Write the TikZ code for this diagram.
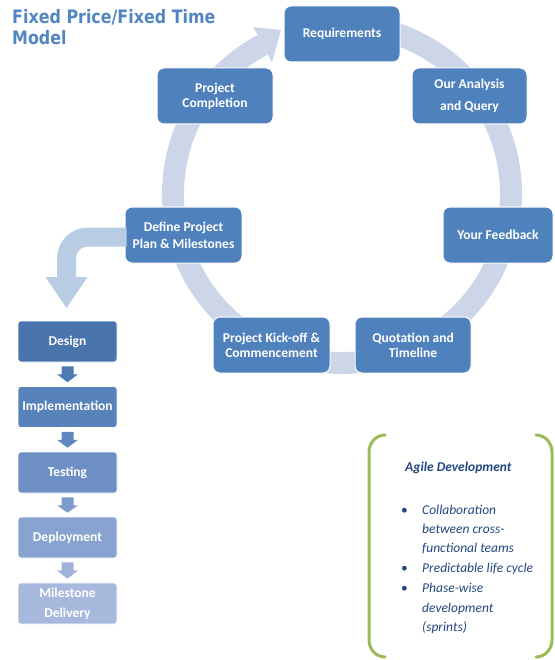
\documentclass[tikz,border=0pt]{standalone}
\usepackage{fontspec}
\setmainfont{Carlito}
\newfontfamily\titlefont{DejaVu Sans}[FakeStretch=0.86]
\usetikzlibrary{calc}
\definecolor{boxblue}{HTML}{4F81BD}
\definecolor{ringcol}{HTML}{CDD5E8}
\definecolor{curvecol}{HTML}{B8CCE4}
\definecolor{titlecol}{HTML}{5286C2}
\definecolor{dA}{HTML}{4A74AD}
\definecolor{dB}{HTML}{5882BA}
\definecolor{dC}{HTML}{6D8FC3}
\definecolor{dD}{HTML}{88A3CF}
\definecolor{dE}{HTML}{A6B9DD}
\definecolor{aA}{HTML}{4F79B2}
\definecolor{aB}{HTML}{6087BF}
\definecolor{aC}{HTML}{7D9BCC}
\definecolor{aD}{HTML}{9FB3DA}
\definecolor{agilegreen}{HTML}{9BBB59}
\definecolor{agiletext}{HTML}{234680}
\newcommand\dnarr[3]{\fill[#3] ($(#1.south)+(-6,-4)$) -- ($(#1.south)+(6,-4)$) -- ($(#1.south)+(6,-12)$) -- ($(#1.south)+(10.5,-12)$) -- ($(#2.north)+(0,4)$) -- ($(#1.south)+(-10.5,-12)$) -- ($(#1.south)+(-6,-12)$) -- cycle;}
\tikzset{
  cyclebox/.style={rectangle, rounded corners=7pt, fill=boxblue, draw=white, line width=1pt,
    text=white, minimum width=116pt, minimum height=56pt, inner sep=0pt, align=center,
    font=\fontsize{13.5}{15}\selectfont\bfseries},
  colbox/.style={rectangle, rounded corners=3pt, draw=white, line width=0.6pt,
    text=white, minimum width=99pt, minimum height=41pt, inner sep=0pt, align=center,
    font=\fontsize{13.5}{20}\selectfont\bfseries},
  agiletxt/.style={anchor=base west, inner sep=0pt, text=agiletext,
    font=\fontsize{13.5}{16}\selectfont\itshape},
  titletxt/.style={anchor=base west, inner sep=0pt, text=titlecol,
    font=\fontsize{18.5}{21}\selectfont\titlefont\bfseries},
  bracket/.style={draw=agilegreen, line width=3pt, line cap=round}
}
\begin{document}
\begin{tikzpicture}[x=1pt,y=1pt]
\useasboundingbox (0,0) rectangle (554,-660);
% title
\node[titletxt] (t1) at (12,-24) {Fixed Price/Fixed Time};
\node[titletxt] (t2) at (12,-45) {Model};
% ring
\coordinate (rc) at (342,-194);
\draw[ringcol, line width=22pt] ($(rc)+(80:169)$) arc[start angle=80, end angle=-242, radius=169];
\fill[ringcol] ($(rc)+(118:149)$) -- ($(rc)+(118:189)$) -- ($(rc)+(110.4:175)$) -- cycle;
% cycle boxes
\node[cyclebox] (req) at (342,-34) {Requirements};
\node[cyclebox, minimum width=115pt, font=\fontsize{13.5}{22}\selectfont\bfseries] (ana) at (469.5,-96) {Our Analysis\\and Query};
\node[cyclebox, minimum width=110pt] (fb) at (498,-235) {Your Feedback};
\node[cyclebox] (quo) at (413,-345) {Quotation and\\Timeline};
\node[cyclebox, minimum width=117pt] (kick) at (271.5,-345) {Project Kick-off \&\\Commencement};
\node[cyclebox, minimum width=117pt, font=\fontsize{13.5}{17}\selectfont\bfseries] (def) at (183.5,-235) {Define Project\\Plan \& Milestones};
\node[cyclebox] (comp) at (215,-96) {Project\\Completion};
% curved arrow to the column
\coordinate (bend) at (88,-237);
\coordinate (dtip) at (66.5,-308);
\draw[curvecol, line width=19pt] ($(def.west)+(2,-2)$) -- (bend) arc[start angle=90, end angle=180, radius=21.5] -- (66.5,-278);
\fill[curvecol] (45.5,-277) -- (87.5,-277) -- (dtip) -- cycle;
% column
\node[colbox, fill=dA] (des) at (67.5,-341.5) {Design};
\node[colbox, fill=dB] (imp) at (67.5,-407) {Implementation};
\node[colbox, fill=dC] (tst) at (67.5,-472.5) {Testing};
\node[colbox, fill=dD] (dep) at (67.5,-537.5) {Deployment};
\node[colbox, fill=dE] (mil) at (67.5,-603.5) {Milestone\\Delivery};
\dnarr{des}{imp}{aA}
\dnarr{imp}{tst}{aB}
\dnarr{tst}{dep}{aC}
\dnarr{dep}{mil}{aD}
% agile box
\draw[bracket] (385,-435) to[out=180,in=90] (369,-452) -- (369,-640) to[out=-90,in=180] (385,-657);
\draw[bracket] (536,-435) to[out=0,in=90] (552,-452) -- (552,-640) to[out=-90,in=0] (536,-657);
\node[agiletxt, font=\fontsize{13.5}{16}\selectfont\bfseries\itshape] (ag) at (405,-471.5) {Agile Development};
\node[agiletxt, font=\fontsize{13.5}{16}\selectfont] (b1) at (401,-514.5) {•};
\node[agiletxt, font=\fontsize{13.5}{16}\selectfont] (b2) at (401,-572.5) {•};
\node[agiletxt, font=\fontsize{13.5}{16}\selectfont] (b3) at (401,-592.5) {•};
\node[agiletxt] (l1) at (422,-514.5) {Collaboration};
\node[agiletxt] (l2) at (422,-533.5) {between cross-};
\node[agiletxt] (l3) at (422,-552.5) {functional teams};
\node[agiletxt] (l4) at (422,-572.5) {Predictable life cycle};
\node[agiletxt] (l5) at (422,-592.5) {Phase-wise};
\node[agiletxt] (l6) at (422,-612.5) {development};
\node[agiletxt] (l7) at (422,-631.5) {(sprints)};
\end{tikzpicture}
\end{document}
